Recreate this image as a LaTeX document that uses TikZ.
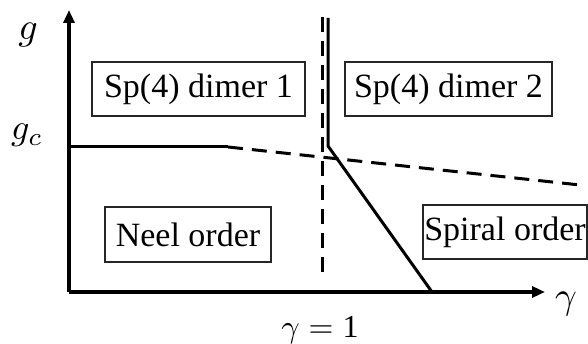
\documentclass[tikz,border=0pt]{standalone}
\usepackage{graphicx}
\usepackage{fontspec}
\setmainfont{Liberation Serif}
\usetikzlibrary{arrows.meta}
\begin{document}
\begin{tikzpicture}[x=1pt,y=-1pt,
  regionbox/.style={draw=black!85,line width=1.2pt,inner sep=0pt,font=\fontsize{34}{36}\selectfont},
  axisline/.style={line width=3.5pt,-{Triangle[length=13pt,width=11pt]}},
  phaseline/.style={line width=3pt},
  dashline/.style={line width=3pt,dash pattern=on 15pt off 9pt},
  biglabel/.style={inner sep=0pt,anchor=base,font=\fontsize{10}{12}\selectfont}]
\useasboundingbox (0,0) rectangle (588,344);
% coordinates
\coordinate (O) at (69,292);
\coordinate (ytop) at (69,10);
\coordinate (xend) at (545,292);
\coordinate (gcL) at (69,147);
\coordinate (gcM) at (228,147);
\coordinate (dR) at (580,185);
\coordinate (vtop) at (322,17);
\coordinate (vbot) at (322,278);
\coordinate (stop) at (328,18);
\coordinate (skink) at (328,146);
\coordinate (sbot) at (432,292);
% axes
\draw[axisline] (O) -- (ytop);
\draw[axisline] (O) -- (xend);
% phase lines
\draw[phaseline] (gcL) -- (gcM);
\draw[dashline] (gcM) -- (dR);
\draw[dashline] (vtop) -- (vbot);
\draw[phaseline] (stop) -- (skink) -- (sbot);
% boxes
\node[regionbox,minimum width=213pt,minimum height=54pt] (d1) at (198.5,89) {Sp(4) dimer 1};
\node[regionbox,minimum width=207pt,minimum height=54pt] (d2) at (448.5,89) {Sp(4) dimer 2};
\node[regionbox,minimum width=166pt,minimum height=55pt] (neel) at (188,234.5) {Neel order};
\node[regionbox,minimum width=164pt,minimum height=54pt] (spiral) at (505,232) {Spiral order};
% labels
\node[biglabel] (glab) at (28,40) {\scalebox{3.8}{$g$}};
\node[biglabel,anchor=base west] (gclab) at (11,140) {\scalebox{3.6}{$g_c$}};
\node[biglabel] (gamlab) at (566,308) {\scalebox{3.8}{$\gamma$}};
\node[biglabel] (g1lab) at (320,337) {\scalebox{3.2}{$\gamma=\mbox{1}$}};
\end{tikzpicture}
\end{document}
